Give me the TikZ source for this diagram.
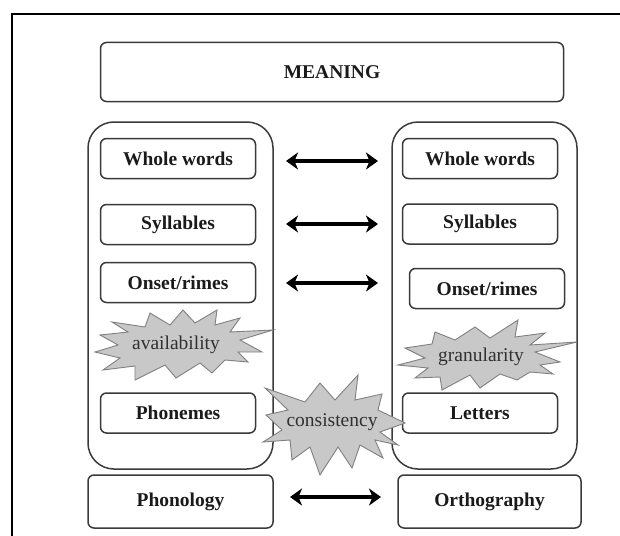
\documentclass[tikz,border=0pt]{standalone}
\usepackage{fontspec}
\setmainfont{Liberation Serif}
\usetikzlibrary{arrows.meta}
\definecolor{edgec}{HTML}{3A3A3A}
\definecolor{txtc}{HTML}{1A1A1A}
\definecolor{burstfill}{HTML}{C8C8C8}
\definecolor{burstedge}{HTML}{808080}
\definecolor{bursttxt}{HTML}{303030}
\tikzset{
  box/.style={draw=edgec, line width=1.5pt, rounded corners=6pt, fill=white,
    minimum width=155pt, minimum height=40pt, inner sep=0pt,
    font=\fontsize{19.5}{22}\selectfont\bfseries, text=txtc},
  groupbox/.style={draw=edgec, line width=1.5pt, rounded corners=26pt,
    minimum width=185pt, minimum height=347pt, inner sep=0pt},
  burst/.style={draw=burstedge, fill=burstfill, line width=0.9pt, line join=miter},
  bursttext/.style={font=\fontsize{19.5}{22}\selectfont, text=bursttxt, inner sep=0pt},
  dbl/.style={line width=4.6pt, {Stealth[length=12pt,width=17pt,inset=3.5pt]}-{Stealth[length=12pt,width=17pt,inset=3.5pt]}},
}
\begin{document}
\begin{tikzpicture}[x=1pt,y=-1pt]
\useasboundingbox (0,0) rectangle (620,535);
\clip (0,0) rectangle (620,535);
% outer frame (cut by the page at right and bottom)
\draw[line width=2.6pt] (640,14) -- (12,14) -- (12,560);

% meaning
\node[box, minimum width=463pt, minimum height=59pt] (meaning) at (332,72) {MEANING};

% group boxes
\node[groupbox] (lgroup) at (180.5,295.5) {};
\node[groupbox] (rgroup) at (484.5,295.5) {};

% left column
\node[box] (lww) at (178,158.5) {Whole words};
\node[box] (lsy) at (178,224.5) {Syllables};
\node[box] (lon) at (178,282.5) {Onset/rimes};
\node[box] (lph) at (178,413) {Phonemes};

% right column
\node[box] (rww) at (480,158.5) {Whole words};
\node[box] (rsy) at (480,224) {Syllables};
\node[box] (ron) at (487,288.5) {Onset/rimes};
\node[box] (rle) at (480,413) {Letters};

% bottom
\node[box, minimum width=185pt, minimum height=53pt] (phon) at (180.5,501.5) {Phonology};
\node[box, minimum width=183pt, minimum height=53pt] (orth) at (489.5,501.5) {Orthography};

% arrows
\coordinate (a1l) at (286,161); \coordinate (a1r) at (378,161);
\coordinate (a2l) at (286,224); \coordinate (a2r) at (378,224);
\coordinate (a3l) at (286,283); \coordinate (a3r) at (378,283);
\coordinate (a4l) at (290,497); \coordinate (a4r) at (381,497);
\draw[dbl] (a1l) -- (a1r);
\draw[dbl] (a2l) -- (a2r);
\draw[dbl] (a3l) -- (a3r);
\draw[dbl] (a4l) -- (a4r);

% availability burst
\draw[burst] (273,330) -- (240,340) -- (262,352) -- (238,352) -- (248,362) -- (225,360)
  -- (212,373) -- (200,363) -- (176,378) -- (165,365) -- (135,380) -- (135,366)
  -- (103,370) -- (120,358) -- (95,352) -- (118,345) -- (100,335) -- (128,332)
  -- (112,322) -- (145,327) -- (150,313) -- (170,325) -- (183,310) -- (195,323)
  -- (217,310) -- (215,325) -- (240,318) -- (230,332) -- cycle;
\node[bursttext] (avail) at (176,345) {availability};

% granularity burst
\draw[burst] (577,342) -- (535,352) -- (560,362) -- (540,365) -- (553,374) -- (530,372)
  -- (517,380) -- (500,374) -- (480,388) -- (470,375) -- (442,390) -- (440,377)
  -- (415,378) -- (428,368) -- (398,365) -- (425,358) -- (405,348) -- (432,344)
  -- (435,332) -- (455,340) -- (475,327) -- (490,338) -- (518,320) -- (515,337)
  -- (545,333) -- (530,345) -- cycle;
\node[bursttext] (gran) at (481,357) {granularity};

% consistency burst
\draw[burst] (405,423) -- (380,432) -- (398,445) -- (375,440) -- (383,458) -- (360,445)
  -- (352,468) -- (338,447) -- (320,475) -- (310,447) -- (292,460) -- (290,440)
  -- (263,442) -- (282,430) -- (266,415) -- (288,410) -- (265,388) -- (305,402)
  -- (320,383) -- (335,400) -- (358,375) -- (355,400) -- (382,394) -- (378,410) -- cycle;
\node[bursttext] (cons) at (332,422) {consistency};
\end{tikzpicture}
\end{document}
